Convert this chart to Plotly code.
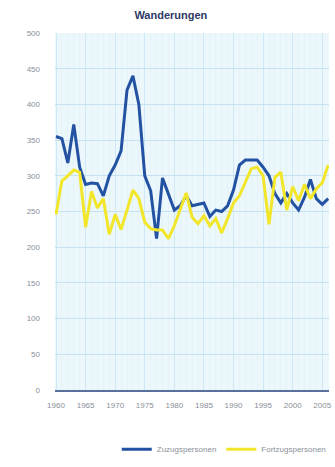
import plotly.graph_objects as go

# Jahreswerte der Wanderungen
years = list(range(1960, 2007))
zuzug = [355, 352, 318, 372, 312, 288, 290, 289, 272, 300,
         315, 335, 420, 440, 400, 300, 279, 212, 297, 275,
         252, 258, 272, 258, 260, 262, 243, 252, 250, 258,
         280, 315, 322, 322, 322, 312, 300, 275, 262, 275,
         262, 252, 270, 295, 268, 260, 268]
fortzug = [246, 293, 300, 308, 305, 228, 278, 255, 268, 218,
           246, 225, 252, 280, 268, 235, 226, 224, 224, 212,
           230, 252, 276, 242, 233, 244, 230, 240, 220, 240,
           262, 272, 290, 310, 312, 300, 232, 298, 305, 252,
           285, 265, 288, 268, 282, 290, 315]
x_ticks = [1960, 1965, 1970, 1975, 1980, 1985, 1990, 1995, 2000, 2005]
y_ticks = list(range(0, 501, 50))

fig = go.Figure()
fig.add_trace(go.Scatter(x=years, y=zuzug, mode="lines", name="Zuzugspersonen",
                         line=dict(color="#2352a3", width=3)))
fig.add_trace(go.Scatter(x=years, y=fortzug, mode="lines", name="Fortzugspersonen",
                         line=dict(color="#f2e62a", width=3)))

fig.update_layout(
    width=335, height=467,
    margin=dict(l=55, r=3, t=33, b=72),
    paper_bgcolor="white",
    plot_bgcolor="#ecf7fc",
    font=dict(family="Liberation Sans, Arial, sans-serif", size=8, color="#8a8f98"),
    title=dict(text="<b>Wanderungen</b>", x=0.51, xanchor="center",
               y=1 - 15 / 467, yref="container", yanchor="middle",
               font=dict(size=11, color="#2e3a66")),
    showlegend=True,
    legend=dict(orientation="h", x=1.01, xanchor="right", y=-0.166, yanchor="middle",
                font=dict(size=8, color="#8a8f98"), bgcolor="rgba(0,0,0,0)",
                itemwidth=30, tracegroupgap=0),
)
fig.update_xaxes(
    range=[1959.83, 2006.14], tickmode="array", tickvals=x_ticks,
    ticktext=[str(v) for v in x_ticks],
    showgrid=True, gridcolor="#cfe8f5", gridwidth=1,
    minor=dict(dtick=1, showgrid=True, gridcolor="#e4f3fa", gridwidth=1),
    showline=True, linecolor="#5a6f9a", linewidth=2,
    zeroline=False, ticks="", ticklabelstandoff=6,
)
fig.update_yaxes(
    range=[0, 500], tickmode="array", tickvals=y_ticks,
    showgrid=True, gridcolor="#c6e2f2", gridwidth=1,
    showline=False, zeroline=False, ticks="", ticklabelstandoff=14,
)

fig.write_html("out.html")
